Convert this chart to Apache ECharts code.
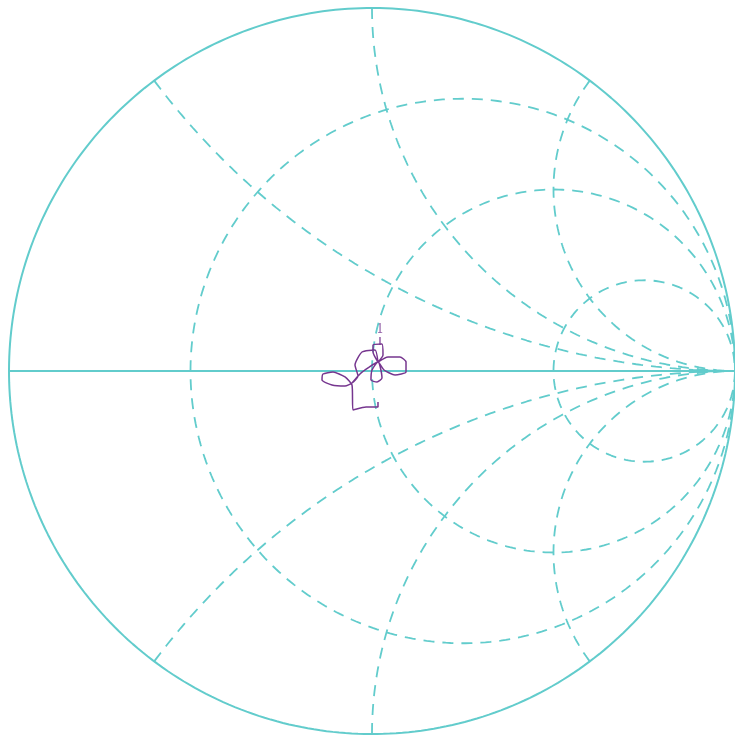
<!DOCTYPE html>
<html>
<head>
<meta charset="utf-8">
<script src="https://cdn.jsdelivr.net/npm/echarts@6/dist/echarts.min.js"></script>
<style>
  html, body { margin: 0; padding: 0; background: #fff; }
  #smith { width: 735px; height: 735px; }
</style>
</head>
<body>
<div id="smith"></div>
<script>
// grid values of the Smith chart
var resistances = [1 / 3, 1, 3];
var reactances = [0.5, 1, 2, -0.5, -1, -2];

// measured reflection coefficient trace (real / imaginary part)
var traceRe = [0.0165, 0.0165, -0.0165, -0.0523, -0.0551, -0.0744, -0.1074, -0.135, -0.1377, -0.1102,
    -0.0744, -0.0551, -0.0386, -0.0468, -0.0275, 0.0083, 0.0165, 0.0028, 0.0028, 0.0275,
    0.0303, 0.0165, 0.0441, 0.0771, 0.0937, 0.0937, 0.0634, 0.0331, 0.0165, 0,
    -0.0028, 0.0138, 0.0275, 0.022, 0.0165, -0.011, -0.0331, -0.0551];
var traceIm = [-0.0854, -0.0992, -0.0992, -0.1074, -0.0386, -0.0165, -0.0028, -0.0083, -0.0248, -0.0386,
    -0.0413, -0.0331, -0.0138, 0.0165, 0.0523, 0.0579, 0.0248, 0.0523, 0.0716, 0.0744,
    0.0441, 0.0248, 0.0386, 0.0386, 0.0248, -0.0028, -0.011, 0.0028, 0.0248, 0.0028,
    -0.0248, -0.0303, -0.0193, 0.0138, 0.0248, 0.0083, -0.0083, -0.0331];

// marker
var markerRe = [0.022];
var markerIm = [0.0826];
var markerLabels = ['1'];

var gridColor = '#62cccc';
var chart = echarts.init(document.getElementById('smith'));

function gamma(r, x) {
    var d = (r + 1) * (r + 1) + x * x;
    return [(r * r + x * x - 1) / d, 2 * x / d];
}

function resistanceCircle(r) {
    var pts = [[1, 0]];
    for (var i = -899; i <= 899; i += 5) {
        pts.push(gamma(r, Math.tan(i / 10 * Math.PI / 180)));
    }
    pts.push([1, 0]);
    return pts;
}

function reactanceArc(x) {
    var pts = [];
    for (var i = 0; i <= 899; i += 5) {
        pts.push(gamma(Math.tan(i / 10 * Math.PI / 180), x));
    }
    pts.push([1, 0]);
    return pts;
}

var series = [];

// outer circle (r = 0) and real axis
series.push({
    type: 'line', data: resistanceCircle(0), showSymbol: false, silent: true,
    lineStyle: { color: gridColor, width: 2 }
});
series.push({
    type: 'line', data: [[-1, 0], [1, 0]], showSymbol: false, silent: true,
    lineStyle: { color: gridColor, width: 2 }
});

resistances.forEach(function (r) {
    series.push({
        type: 'line', data: resistanceCircle(r), showSymbol: false, silent: true,
        lineStyle: { color: gridColor, width: 1.8, type: [11, 8] }
    });
});

reactances.forEach(function (x) {
    series.push({
        type: 'line', data: reactanceArc(x), showSymbol: false, silent: true,
        lineStyle: { color: gridColor, width: 1.8, type: [11, 8] }
    });
});

series.push({
    type: 'line',
    data: traceRe.map(function (v, i) { return [v, traceIm[i]]; }),
    showSymbol: false,
    smooth: 0.2,
    lineStyle: { color: '#76368f', width: 1.5 }
});

series.push({
    type: 'scatter',
    data: markerRe.map(function (v, i) { return [v, markerIm[i], markerLabels[i]]; }),
    symbol: 'rect',
    symbolSize: [1.5, 8],
    itemStyle: { color: '#76368f' },
    label: {
        show: true, position: 'top', distance: 1,
        formatter: function (p) { return p.value[2]; },
        color: '#76368f', fontSize: 12, fontFamily: 'DejaVu Serif'
    }
});

chart.setOption({
    animation: false,
    grid: { left: 9, top: 8, width: 726, height: 726 },
    xAxis: { type: 'value', min: -1, max: 1, show: false },
    yAxis: { type: 'value', min: -1, max: 1, show: false },
    series: series
});
</script>
</body>
</html>
